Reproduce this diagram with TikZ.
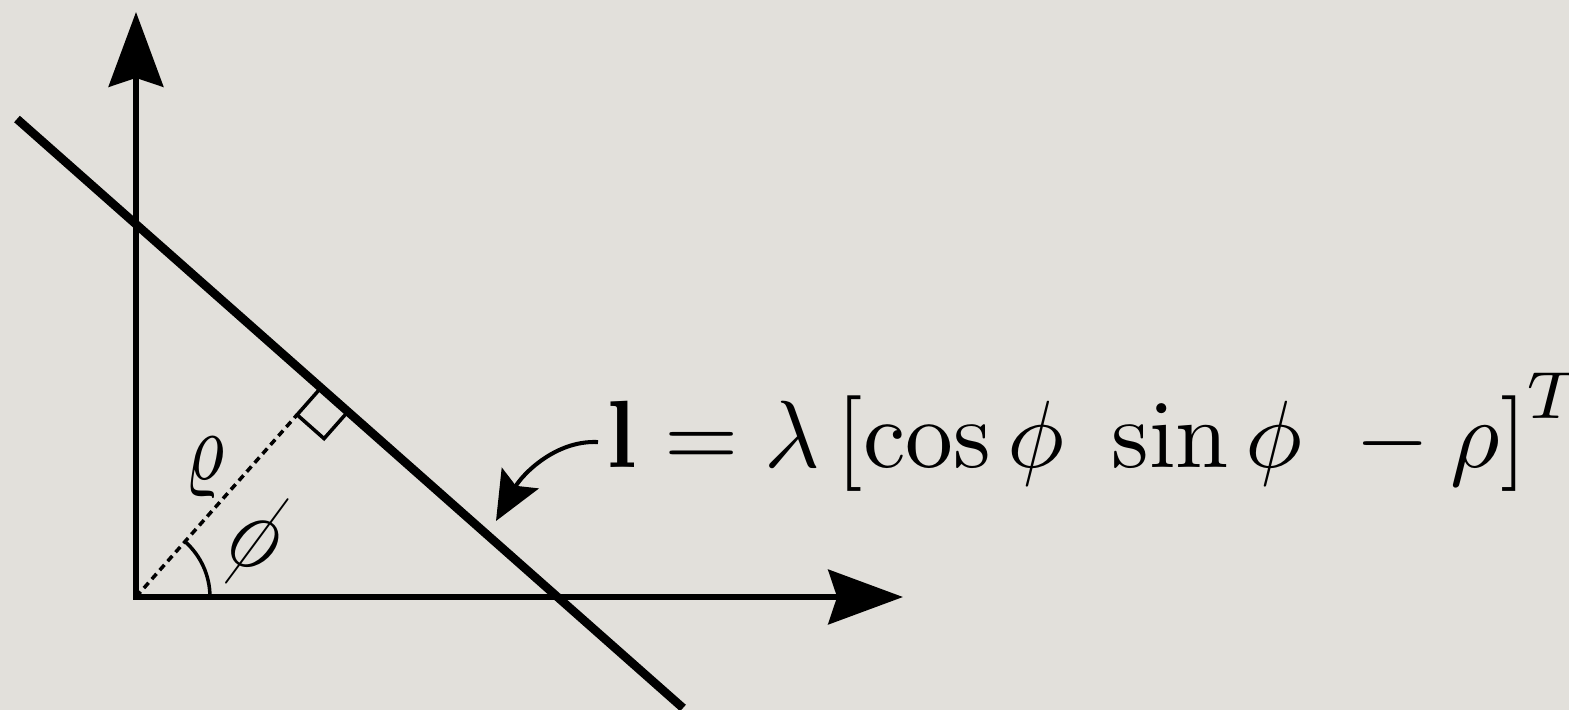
\documentclass[tikz,border=0pt]{standalone}
\usetikzlibrary{arrows.meta,calc}
\definecolor{paper}{RGB}{226,224,219}
\begin{document}
\begin{tikzpicture}[x=0.02cm,y=-0.02cm,
  axisline/.style={line width=3.6pt,
    {Stealth[length=42.5pt,width=31pt,inset=5pt]}-{Stealth[length=42.5pt,width=31pt,inset=5pt]}},
  mainline/.style={line width=4.9pt},
  thinline/.style={line width=2pt},
  dashline/.style={line width=2pt, dash pattern=on 4pt off 2.8pt},
  callout/.style={line width=2.3pt, -{Stealth[length=28pt,width=24pt,inset=5pt]}},
  eqtext/.style={scale=5.44, transform shape, inner sep=0.735pt}
]
\fill[paper] (0,0) rectangle (1569,710);
\useasboundingbox (0,0) rectangle (1569,710);

% axes
\coordinate (O) at (136,597);
\coordinate (ytip) at (136,12);
\coordinate (xtip) at (903,597);
\draw[axisline] (ytip) -- (O) -- (xtip);

% the line
\coordinate (A) at (17,119);
\coordinate (B) at (683,708);
\draw[mainline] (A) -- (B);

% perpendicular foot and right angle mark
\coordinate (F) at ($(A)!(O)!(B)$);
\coordinate (P1) at ($(F)!0.72cm!(O)$);
\coordinate (P3) at ($(F)!0.72cm!(B)$);
\coordinate (P2) at ($(P1)+(P3)-(F)$);
\draw[dashline] (O) -- (P1);
\draw[thinline] (F) -- (P1) -- (P2) -- (P3);

% angle arc
\draw[thinline] let \p1=($(P1)-(O)$), \n1={atan2(\y1,\x1)} in
  ($(O)+(1.48cm,0)$) arc[start angle=0, end angle=\n1, radius=1.48cm];

% labels
\node[rotate=-27, xscale=4.4, yscale=6.6, transform shape, inner sep=0pt] (philabel) at (256,540) {$\phi$};
\node[xscale=4.3, yscale=5.6, transform shape, inner sep=0pt] (rholabel) at (205,468) {$\varrho$};

% equation
\node[eqtext, anchor=base west] (eq) at (598,467)
  {$\mathbf{l} = \lambda\left[\cos\phi\ \sin\phi\ -\rho\right]^T$};

% callout arrow
\coordinate (tip) at (496,521);
\draw[callout] ([yshift=14.2pt]eq.base west) .. controls (555,440) and (522,475) .. (tip);
\end{tikzpicture}
\end{document}
